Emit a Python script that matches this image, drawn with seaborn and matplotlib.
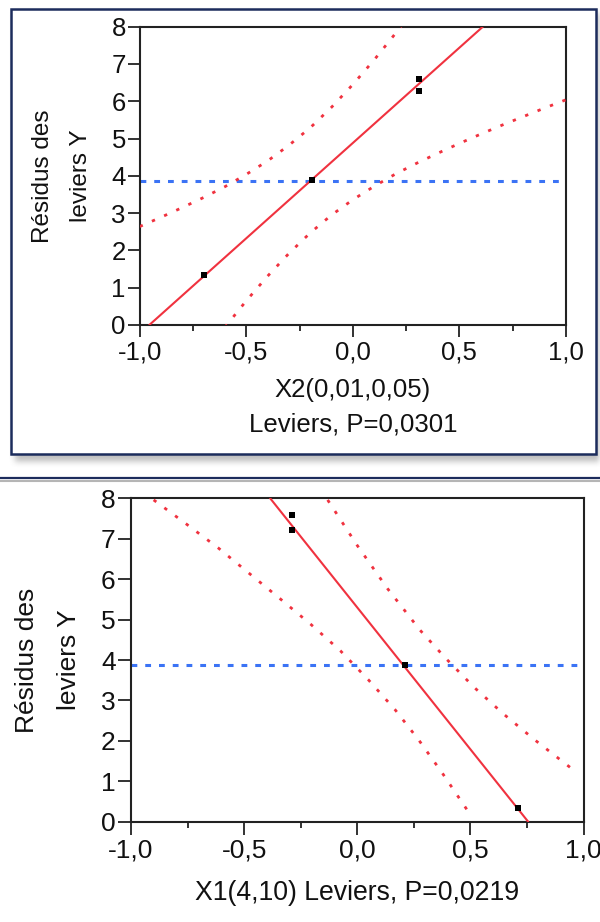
import numpy as np
import matplotlib
matplotlib.use("Agg")
import matplotlib.pyplot as plt
from matplotlib.patches import Rectangle
from matplotlib.ticker import MultipleLocator
import seaborn as sns

# ---------------- Leverage plot for X2 ----------------
x2_points_x = [-0.70, -0.19, 0.31, 0.31]
x2_points_y = [1.33, 3.88, 6.60, 6.28]
x2_fit_x = [-0.955, 0.61]
x2_fit_y = [0.0, 8.0]
x2_upper_x = [-1.0, -0.9, -0.8, -0.7, -0.6, -0.5, -0.4, -0.3, -0.2, -0.1, 0.0, 0.1, 0.2, 0.3]
x2_upper_y = [2.64, 2.89, 3.15, 3.42, 3.71, 4.04, 4.40, 4.82, 5.29, 5.84, 6.45, 7.11, 7.82, 8.55]
x2_lower_x = [-0.6, -0.5, -0.4, -0.3, -0.2, -0.1, 0.0, 0.1, 0.2, 0.3, 0.4, 0.5, 0.6, 0.7, 0.8, 0.9, 1.0]
x2_lower_y = [-0.06, 0.65, 1.31, 1.92, 2.47, 2.95, 3.36, 3.72, 4.05, 4.34, 4.61, 4.87, 5.12, 5.36, 5.59, 5.82, 6.04]
x2_mean = 3.87
x2_xlabel = "X2(0,01,0,05)\nLeviers, P=0,0301"

# ---------------- Leverage plot for X1 ----------------
x1_points_x = [-0.29, -0.29, 0.21, 0.71]
x1_points_y = [7.58, 7.21, 3.88, 0.35]
x1_fit_x = [-0.385, 0.755]
x1_fit_y = [8.0, 0.0]
x1_left_x = [-0.900, -0.757, -0.614, -0.477, -0.340, -0.205, -0.075, 0.049, 0.167, 0.273, 0.376, 0.506]
x1_left_y = [7.96, 7.37, 6.77, 6.14, 5.51, 4.88, 4.23, 3.51, 2.77, 2.01, 1.20, 0.12]
x1_right_x = [-0.131, -0.001, 0.133, 0.277, 0.391, 0.517, 0.645, 0.785, 0.925, 0.974]
x1_right_y = [7.96, 6.84, 5.77, 4.74, 4.04, 3.32, 2.67, 2.02, 1.41, 1.20]
x1_mean = 3.87
x1_xlabel = "X1(4,10) Leviers, P=0,0219"

# ---------------- shared axis text ----------------
x_ticks = [-1.0, -0.5, 0.0, 0.5, 1.0]
x_tick_labels = ["-1,0", "-0,5", "0,0", "0,5", "1,0"]
y_ticks = [0, 1, 2, 3, 4, 5, 6, 7, 8]
y_tick_labels = ["0", "1", "2", "3", "4", "5", "6", "7", "8"]
y_label = "Résidus des\nleviers Y"

RED = "#f0323f"
BLUE = "#3b73f5"
NAVY = "#1c2c5c"
INK = "#222222"

sns.set_style("white")
plt.rcParams["font.family"] = ["Liberation Sans", "DejaVu Sans"]

W, H = 600, 922
fig = plt.figure(figsize=(W / 100, H / 100), dpi=100)
fig.patch.set_facecolor("white")

# Decoration layer in pixel coordinates (frame, shadow, separator)
bg = fig.add_axes([0, 0, 1, 1], zorder=0)
bg.set_xlim(0, W)
bg.set_ylim(H, 0)
bg.axis("off")

yy, xx = np.mgrid[0:H, 0:W]
shadow = ((xx >= 15) & (xx < 600) & (yy >= 14) & (yy < 462)).astype(float)
kernel = np.ones(7) / 7.0
for _ in range(2):
    shadow = np.apply_along_axis(lambda r: np.convolve(r, kernel, mode="same"), 1, shadow)
    shadow = np.apply_along_axis(lambda c: np.convolve(c, kernel, mode="same"), 0, shadow)
rgba = np.zeros((H, W, 4))
rgba[..., :3] = 0.5
rgba[..., 3] = shadow * 0.5
bg.imshow(rgba, extent=(0, W, H, 0), zorder=0, interpolation="bilinear")
bg.add_patch(Rectangle((11, 9), 585, 445, facecolor="white", edgecolor=NAVY, lw=1.8, zorder=1))
bg.plot([0, W], [480.5, 480.5], color="#b5b5b5", lw=1.5, zorder=1, solid_capstyle="butt")
bg.plot([0, W], [477.5, 477.5], color=NAVY, lw=1.6, zorder=2, solid_capstyle="butt")


def draw_panel(ax, px, py, fx, fy, bands, mean, xlabel, tick_fs, xlabel_fs,
               ylabel_fs, tick_len, xlabel_y, ylabel_x):
    ax.set_facecolor("white")
    ax.axhline(mean, color=BLUE, lw=2.2, linestyle=(0, (1.9, 2.6)), zorder=2)
    for bx, by in bands:
        sns.lineplot(x=bx, y=by, ax=ax, color=RED, lw=2.0, linestyle=(0, (1.2, 3.6)),
                     sort=False, estimator=None, errorbar=None, zorder=3)
    sns.lineplot(x=fx, y=fy, ax=ax, color=RED, lw=1.5, sort=False,
                 estimator=None, errorbar=None, zorder=4)
    sns.scatterplot(x=px, y=py, ax=ax, marker="s", s=13, color="black",
                    linewidth=0, zorder=5)

    ax.set_xlim(-1.0, 1.0)
    ax.set_ylim(0, 8)
    ax.set_xticks(x_ticks, x_tick_labels)
    ax.set_yticks(y_ticks, y_tick_labels)
    ax.xaxis.set_minor_locator(MultipleLocator(0.25))
    for side in ["left", "right", "top", "bottom"]:
        ax.spines[side].set_visible(True)
        ax.spines[side].set_color(INK)
        ax.spines[side].set_linewidth(1.5)
    ax.tick_params(axis="both", which="major", direction="out", color=INK,
                   width=1.3, labelsize=tick_fs, labelcolor="#111111")
    ax.tick_params(axis="x", which="major", length=tick_len, pad=2.5,
                   bottom=True, top=False)
    ax.tick_params(axis="x", which="minor", length=4.5, width=1.3,
                   color=INK, bottom=True, top=False)
    ax.tick_params(axis="y", which="major", length=tick_len, pad=1.5,
                   left=True, right=False)

    ax.set_xlabel(xlabel, fontsize=xlabel_fs, color="#111111", linespacing=1.55,
                  va="center")
    ax.xaxis.set_label_coords(0.5, xlabel_y)
    ax.set_ylabel(y_label, fontsize=ylabel_fs, color="#111111", linespacing=1.95,
                  va="center")
    ax.yaxis.set_label_coords(ylabel_x, 0.5)


ax_top = fig.add_axes([139.7 / W, 1 - 325.0 / H, 426.3 / W, 298.3 / H], zorder=2)
draw_panel(ax_top, x2_points_x, x2_points_y, x2_fit_x, x2_fit_y,
           [(x2_upper_x, x2_upper_y), (x2_lower_x, x2_lower_y)], x2_mean,
           x2_xlabel, 18.5, 18.5, 17.5, 8.5, -0.2757, -0.182)

ax_bot = fig.add_axes([131.0 / W, 1 - 821.7 / H, 452.6 / W, 323.4 / H], zorder=2)
draw_panel(ax_bot, x1_points_x, x1_points_y, x1_fit_x, x1_fit_y,
           [(x1_left_x, x1_left_y), (x1_right_x, x1_right_y)], x1_mean,
           x1_xlabel, 19, 19.2, 19, 9.5, -0.219, -0.184)

fig.savefig("out.png", dpi=100, facecolor="white")
